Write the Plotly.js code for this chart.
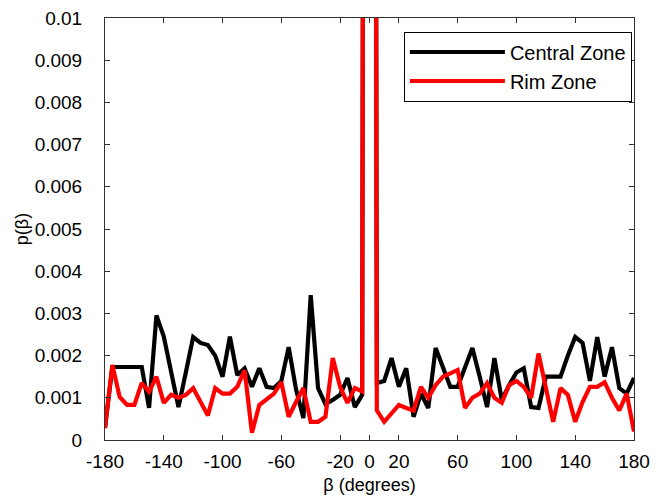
<!DOCTYPE html>
<html>
<head>
<meta charset="utf-8">
<script src="https://cdn.plot.ly/plotly-3.0.1.min.js"></script>
<style>html,body{margin:0;padding:0;background:#fff;}#chart{width:664px;height:499px;}</style>
</head>
<body>
<div id="chart"></div>
<script>
// Angle bins (degrees)
const beta = [];
for (let b = -180; b <= 180; b += 5) beta.push(b);

// Central Zone p(beta), -180..180 step 5
const centralZone = [
  0.0003, 0.00173, 0.00173, 0.00173, 0.00173, 0.00173, 0.00076, 0.00295, 0.00245, 0.0016,
  0.00078, 0.0016, 0.00244, 0.0023, 0.00225, 0.0020, 0.0015, 0.00245, 0.00154, 0.0017,
  0.00126, 0.0017, 0.00126, 0.00123, 0.0014, 0.0022, 0.0012, 0.00052, 0.00343, 0.00123,
  0.00085, 0.00095, 0.00107, 0.00147, 0.00078, 0.00107,
  0.1,
  0.00135, 0.0014, 0.00194, 0.00126, 0.0017, 0.00055, 0.0011, 0.00076, 0.00218, 0.0017,
  0.00126, 0.00126, 0.0017, 0.00218, 0.0015, 0.00078, 0.00194, 0.00095, 0.0013, 0.0016,
  0.0017, 0.00078, 0.00076, 0.0015, 0.0015, 0.0015, 0.002, 0.00244, 0.0023, 0.0014,
  0.00244, 0.0015, 0.0022, 0.00123, 0.0011, 0.00147
];

// Rim Zone p(beta), -180..180 step 5
const rimZone = [
  0.00028, 0.00178, 0.00102, 0.00083, 0.00083, 0.00135, 0.00114, 0.0015, 0.00088, 0.00107,
  0.001, 0.00107, 0.00123, 0.0009, 0.00058, 0.00123, 0.0011, 0.0011, 0.00126, 0.00165,
  0.00017, 0.00083, 0.00095, 0.0011, 0.00137, 0.00055, 0.0009, 0.00123, 0.00043, 0.00043,
  0.00055, 0.00194, 0.00126, 0.00088, 0.00123, 0.00115,
  0.1,
  0.0007, 0.00043, 0.00064, 0.00083, 0.00076, 0.0007, 0.00126, 0.001, 0.0013, 0.0015,
  0.00158, 0.00166, 0.00076, 0.001, 0.0011, 0.00135, 0.001, 0.00088, 0.0013, 0.0014,
  0.00126, 0.001, 0.00205, 0.00126, 0.00043, 0.00123, 0.00107, 0.00043, 0.0009, 0.00126,
  0.00126, 0.00137, 0.001, 0.0007, 0.0011, 0.0002
];

const xTickVals = [-180, -140, -100, -60, -20, 0, 20, 60, 100, 140, 180];
const xTickText = ['-180', '-140', '-100', '-60', '-20', '0', '20', '60', '100', '140', '180'];
const yTickVals = [0, 0.001, 0.002, 0.003, 0.004, 0.005, 0.006, 0.007, 0.008, 0.009, 0.01];
const yTickText = ['0', '0.001', '0.002', '0.003', '0.004', '0.005', '0.006', '0.007', '0.008', '0.009', '0.01'];

const FONT = 'Liberation Sans, Arial, sans-serif';

const traces = [
  {x: beta, y: centralZone, type: 'scatter', mode: 'lines', name: 'Central Zone',
   line: {color: '#000000', width: 4.2}},
  {x: beta, y: rimZone, type: 'scatter', mode: 'lines', name: 'Rim Zone',
   line: {color: '#ff0000', width: 4.2}}
];

const layout = {
  width: 664, height: 499,
  margin: {l: 105, r: 30, t: 18, b: 59},
  paper_bgcolor: '#ffffff', plot_bgcolor: '#ffffff',
  font: {family: FONT, size: 19, color: '#000'},
  showlegend: true,
  legend: {
    x: 0.996, xanchor: 'right', y: 0.968, yanchor: 'top',
    bgcolor: '#ffffff', bordercolor: '#000', borderwidth: 1,
    font: {family: FONT, size: 20, color: '#000'},
    itemwidth: 95, tracegroupgap: 0
  },
  xaxis: {
    range: [-180, 180], tickmode: 'array', tickvals: xTickVals, ticktext: xTickText,
    ticks: 'inside', ticklen: 5, tickcolor: '#333', showgrid: false, zeroline: false,
    showline: true, linecolor: '#333', linewidth: 1, mirror: 'ticks',
    tickfont: {family: FONT, size: 19}, ticklabelstandoff: 4,
    title: {text: 'β (degrees)', font: {family: FONT, size: 18}, standoff: 7}
  },
  yaxis: {
    range: [0, 0.01], tickmode: 'array', tickvals: yTickVals, ticktext: yTickText,
    ticks: 'inside', ticklen: 5, tickcolor: '#333', showgrid: false, zeroline: false,
    showline: true, linecolor: '#333', linewidth: 1, mirror: 'ticks',
    tickfont: {family: FONT, size: 19}, ticklabelstandoff: 18,
    title: {text: 'p(β)', font: {family: FONT, size: 18}, standoff: 1}
  }
};

Plotly.newPlot('chart', traces, layout, {displayModeBar: false, staticPlot: true});
</script>
</body>
</html>
